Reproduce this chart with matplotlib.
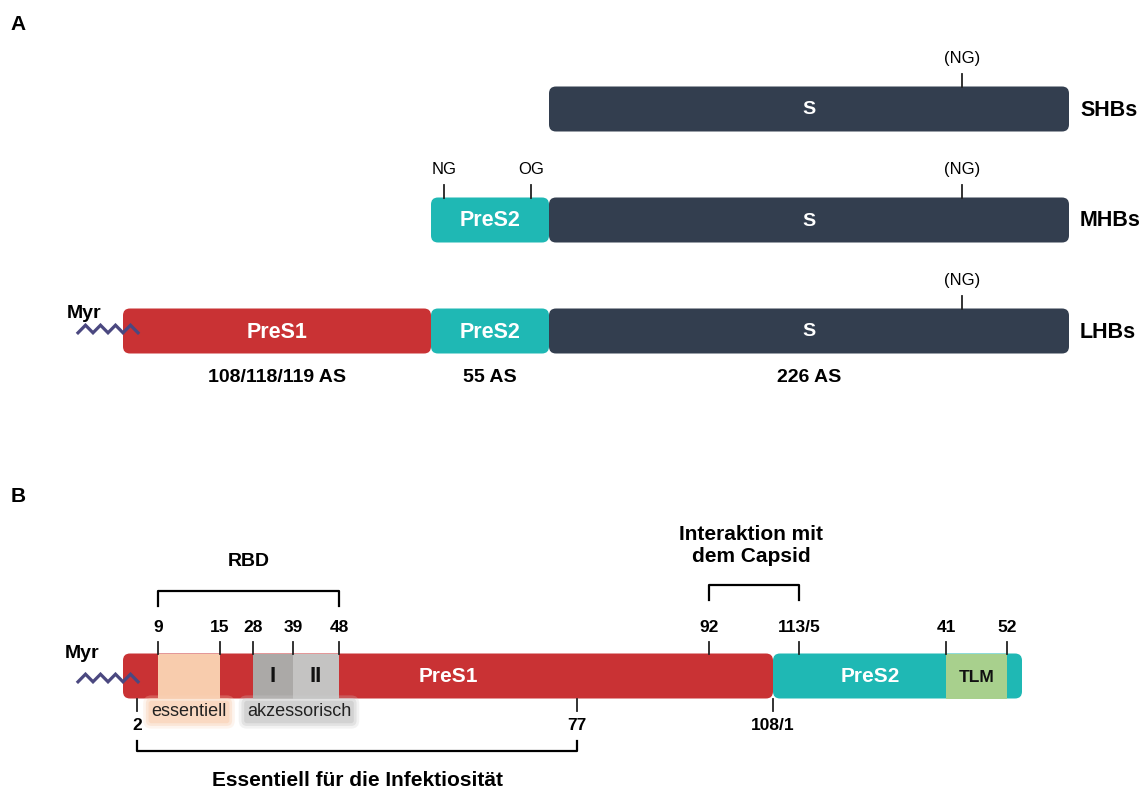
import matplotlib
matplotlib.use("Agg")
import matplotlib.pyplot as plt
from matplotlib.patches import FancyBboxPatch, Rectangle
import numpy as np

plt.rcParams['font.family'] = ['Liberation Sans', 'DejaVu Sans']

# ---------------- data ----------------
# Panel A: schematic domain boundaries (diagram units)
A_rows = ["SHBs", "MHBs", "LHBs"]
A_row_y = [109, 220, 331]
A_domains = ["PreS1", "PreS2", "S"]
A_bounds = [123, 431, 549, 1069]
A_row_first_domain = [2, 1, 0]           # first domain present in each row
A_lengths = ["108/118/119 AS", "55 AS", "226 AS"]
A_glyco_labels = ["NG", "OG", "(NG)"]
A_glyco_pos = [444, 531, 962]

# Panel B: schematic positions of residues along LHBs N-terminus
B_ticks_above = ["9", "15", "28", "39", "48", "92", "113/5", "41", "52"]
B_ticks_above_pos = [158, 220, 253, 293, 339, 709, 799, 946, 1007]
B_ticks_below = ["2", "77", "108/1"]
B_ticks_below_pos = [137, 577, 773]
B_preS1 = [123, 773]
B_preS2 = [773, 1022]
B_subdomains = ["essentiell", "I", "II", "TLM"]
B_sub_start = [158, 253, 293, 946]
B_sub_end = [220, 293, 339, 1007]
B_brackets = ["RBD", "Interaktion mit\ndem Capsid", "Essentiell für die Infektiosität"]
B_bracket_span = [(158, 339), (709, 799), (137, 577)]

# ---------------- style ----------------
RED = "#C93234"
TEAL = "#1FB8B4"
NAVY = "#333E4F"
PEACH = "#F8CCAD"
GREY1 = "#ABA9A7"
GREY2 = "#C4C3C2"
GREEN = "#A8D08D"
MYR = "#4B4880"
DOM_COLORS = {"PreS1": RED, "PreS2": TEAL, "S": NAVY}
SUB_COLORS = {"essentiell": PEACH, "I": GREY1, "II": GREY2, "TLM": GREEN}

fig = plt.figure(figsize=(11.47, 7.91), dpi=100)
ax = fig.add_axes([0, 0, 1, 1])
ax.set_xlim(0, 1147)
ax.set_ylim(791, 0)
ax.axis("off")

BAR_H = 45
R = 7


def rbox(x0, x1, yc, color, z=2):
    p = FancyBboxPatch((x0, yc - BAR_H / 2), x1 - x0, BAR_H,
                       boxstyle=f"round,pad=0,rounding_size={R}",
                       fc=color, ec="none", zorder=z)
    ax.add_patch(p)


def myr(xr, yc):
    xs = np.linspace(xr - 60, xr, 9)
    ys = np.array([yc + (3.8 if i % 2 == 0 else -3.8) for i in range(len(xs))])
    ax.plot(xs, ys, color=MYR, lw=2.3, solid_joinstyle="miter", zorder=5)


# Panel labels
ax.text(18, 25, "A", fontsize=15, fontweight="bold", ha="center", va="center")
ax.text(18, 497, "B", fontsize=15, fontweight="bold", ha="center", va="center")

# ---------------- Panel A ----------------
for row, yc, first in zip(A_rows, A_row_y, A_row_first_domain):
    for d in range(first, 3):
        x0, x1 = A_bounds[d], A_bounds[d + 1]
        rbox(x0, x1, yc, DOM_COLORS[A_domains[d]])
        ax.text((x0 + x1) / 2, yc + 1, A_domains[d], color="white", fontsize=15.5 if d < 2 else 14,
                fontweight="bold", ha="center", va="center", zorder=4)
    ax.text(1080, yc + 1, row, fontsize=15.5, fontweight="bold", ha="left", va="center")
    marks = [2] if first != 1 else [0, 1, 2]
    for m in marks:
        xm = A_glyco_pos[m]
        top = yc - BAR_H / 2
        ax.plot([xm, xm], [top - 13, top], color="#222222", lw=1.3, zorder=3)
        ax.text(xm, top - 28, A_glyco_labels[m], fontsize=12, ha="center", va="center")

myr(A_bounds[0] + 15, A_row_y[2] - 2)
ax.text(84, 314, "Myr", fontsize=14, fontweight="bold", ha="center", va="center")
for d in range(3):
    ax.text((A_bounds[d] + A_bounds[d + 1]) / 2, 378, A_lengths[d], fontsize=14,
            fontweight="bold", ha="center", va="center")

# ---------------- Panel B ----------------
YB = 676
rbox(B_preS1[0], B_preS1[1], YB, RED)
rbox(B_preS2[0], B_preS2[1], YB, TEAL)
for name, s, e in zip(B_subdomains, B_sub_start, B_sub_end):
    ax.add_patch(Rectangle((s, YB - BAR_H / 2), e - s, BAR_H, fc=SUB_COLORS[name], ec="none", zorder=3))
    if name != "essentiell":
        ax.text((s + e) / 2, YB + 1, name, fontsize=16 if name != "TLM" else 12.5,
                fontweight="bold", ha="center", va="center", color="#111111", zorder=4)
ax.text(448, YB + 1, "PreS1", color="white", fontsize=15, fontweight="bold",
        ha="center", va="center", zorder=4)
ax.text(870, YB + 1, "PreS2", color="white", fontsize=15, fontweight="bold",
        ha="center", va="center", zorder=4)

myr(B_preS1[0] + 15, YB + 2)
ax.text(82, 653, "Myr", fontsize=14, fontweight="bold", ha="center", va="center")

top = YB - BAR_H / 2
bot = YB + BAR_H / 2
for lab, xp in zip(B_ticks_above, B_ticks_above_pos):
    ax.plot([xp, xp], [top - 12, top], color="#222222", lw=1.3, zorder=5)
    ax.text(xp, 627, lab, fontsize=12.5, fontweight="bold", ha="center", va="center")
for lab, xp in zip(B_ticks_below, B_ticks_below_pos):
    ax.plot([xp, xp], [bot, bot + 12], color="#222222", lw=1.3, zorder=5)
    ax.text(xp, 726, lab, fontsize=12.5, fontweight="bold", ha="center", va="center")

# glow labels
for txt, xc, col in [("essentiell", 189, "#FAD6BD"), ("akzessorisch", 299, "#CFCFCF")]:
    for pad, a in [(0.45, 0.25), (0.3, 0.45), (0.15, 0.8)]:
        ax.text(xc, 712, txt, fontsize=13, ha="center", va="center", color=(0, 0, 0, 0),
                bbox=dict(boxstyle=f"round,pad={pad}", fc=col, ec="none", alpha=a), zorder=4)
    ax.text(xc, 712, txt, fontsize=13, ha="center", va="center", color="#222222", zorder=6)

# brackets
(x0, x1) = B_bracket_span[0]
ax.plot([x0, x0, x1, x1], [606, 591, 591, 606], color="black", lw=1.6, zorder=5)
ax.text((x0 + x1) / 2, 562, B_brackets[0], fontsize=14, fontweight="bold", ha="center", va="center")
(x0, x1) = B_bracket_span[1]
ax.plot([x0, x0, x1, x1], [600, 585, 585, 600], color="black", lw=1.6, zorder=5)
ax.text((x0 + x1) / 2 - 3, 545, B_brackets[1], fontsize=15, fontweight="bold", ha="center",
        va="center", linespacing=1.2)
(x0, x1) = B_bracket_span[2]
ax.plot([x0, x0, x1, x1], [741, 751, 751, 741], color="black", lw=1.6, zorder=5)
ax.text((x0 + x1) / 2 + 1, 780, B_brackets[2], fontsize=15, fontweight="bold", ha="center", va="center")

fig.savefig("out.png", dpi=100)
